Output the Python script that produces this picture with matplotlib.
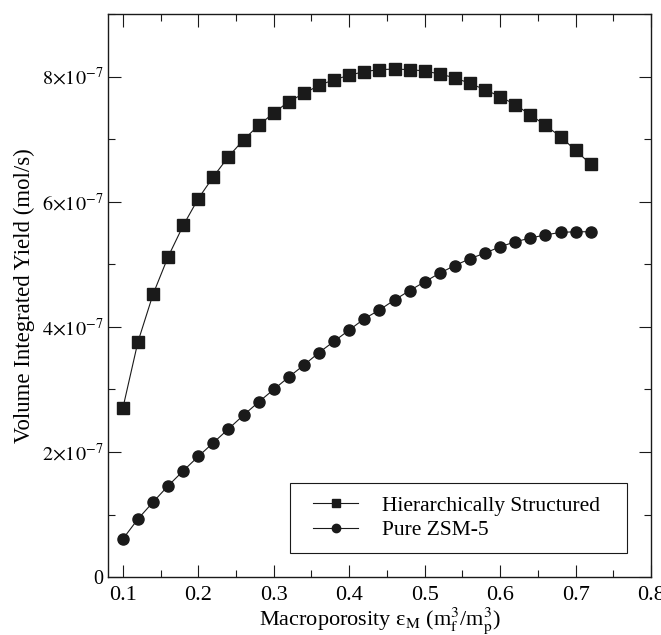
import numpy as np
import matplotlib
matplotlib.use('Agg')
import matplotlib.pyplot as plt
from matplotlib.patches import Rectangle
from matplotlib.ticker import MultipleLocator, FuncFormatter

plt.rcParams['font.family'] = ['Liberation Serif', 'DejaVu Serif']
plt.rcParams['mathtext.fontset'] = 'stix'

porosity = [0.10, 0.12, 0.14, 0.16, 0.18, 0.20, 0.22, 0.24, 0.26, 0.28, 0.30,
            0.32, 0.34, 0.36, 0.38, 0.40, 0.42, 0.44, 0.46, 0.48, 0.50, 0.52,
            0.54, 0.56, 0.58, 0.60, 0.62, 0.64, 0.66, 0.68, 0.70, 0.72]

# yields in units of 1e-7 mol/s
hierarchical = [2.70, 3.76, 4.52, 5.12, 5.62, 6.05, 6.40, 6.72, 6.99, 7.22, 7.42,
                7.60, 7.73, 7.86, 7.95, 8.02, 8.08, 8.11, 8.12, 8.11, 8.09, 8.04,
                7.98, 7.89, 7.79, 7.68, 7.55, 7.39, 7.22, 7.04, 6.82, 6.60]
pure_zsm5 = [0.61, 0.93, 1.20, 1.46, 1.70, 1.93, 2.15, 2.37, 2.59, 2.80, 3.00,
             3.20, 3.39, 3.59, 3.77, 3.95, 4.13, 4.27, 4.43, 4.58, 4.72, 4.86,
             4.98, 5.09, 5.18, 5.28, 5.36, 5.42, 5.47, 5.51, 5.52, 5.52]

x = np.array(porosity)
y1 = np.array(hierarchical) * 1e-7
y2 = np.array(pure_zsm5) * 1e-7

fig = plt.figure(figsize=(6.61, 6.35), dpi=100)
ax = fig.add_axes([0.163, 0.091, 0.822, 0.887])

col = '#1a1a1a'
ax.plot(x, y1, color=col, lw=0.8, marker='s', ms=8, label='Hierarchically Structured')
ax.plot(x, y2, color=col, lw=0.8, marker='o', ms=8, label='Pure ZSM-5')

ax.set_xlim(0.08, 0.8)
ax.set_ylim(0, 9e-7)
ax.xaxis.set_major_locator(MultipleLocator(0.1))
ax.xaxis.set_minor_locator(MultipleLocator(0.05))
ax.yaxis.set_major_locator(MultipleLocator(2e-7))
ax.yaxis.set_minor_locator(MultipleLocator(1e-7))

def yfmt(v, pos):
    m = round(v / 1e-7)
    if m == 0:
        return '0'
    return r'$%d{\times}10^{-7}$' % m

ax.yaxis.set_major_formatter(FuncFormatter(yfmt))
ax.tick_params(which='both', direction='in', top=True, right=True,
               color=col, width=0.8)
ax.tick_params(which='major', length=9)
ax.tick_params(which='minor', length=5)
ax.tick_params(axis='x', labelsize=16, pad=6)
ax.tick_params(axis='y', labelsize=14.5, pad=3)
for s in ax.spines.values():
    s.set_linewidth(1.0)
    s.set_color(col)

ax.set_xlabel('Macroporosity ε$_{\\rm M}$ (m$_{\\rm f}^3$/m$_{\\rm p}^3$)',
              fontsize=16, va='top')
ax.xaxis.set_label_coords(0.5, -0.05)
ax.set_ylabel('Volume Integrated Yield (mol/s)', fontsize=16.4)
ax.yaxis.set_label_coords(-0.133, 0.5)

# legend without its own frame; the box is drawn a bit wider, like the original
leg = ax.legend(loc='lower right', bbox_to_anchor=(0.93, 0.043), fontsize=15.5,
                frameon=False, handlelength=2.1, markerscale=0.75,
                borderpad=0.6, labelspacing=0.2, handletextpad=1.1,
                borderaxespad=0)
leg.set_zorder(6)
fig.canvas.draw()
bb = leg.get_window_extent()
x0, y0 = bb.x0 - 10, bb.y0
x1, y1b = bb.x1 + 14, bb.y1
inv = fig.transFigure.inverted()
(fx0, fy0), (fx1, fy1) = inv.transform([(x0, y0), (x1, y1b)])
ax.add_patch(Rectangle((fx0, fy0), fx1 - fx0, fy1 - fy0, transform=fig.transFigure,
                       facecolor='white', edgecolor=col, lw=0.8, zorder=5,
                       clip_on=False))

fig.savefig('out.png', dpi=100)
